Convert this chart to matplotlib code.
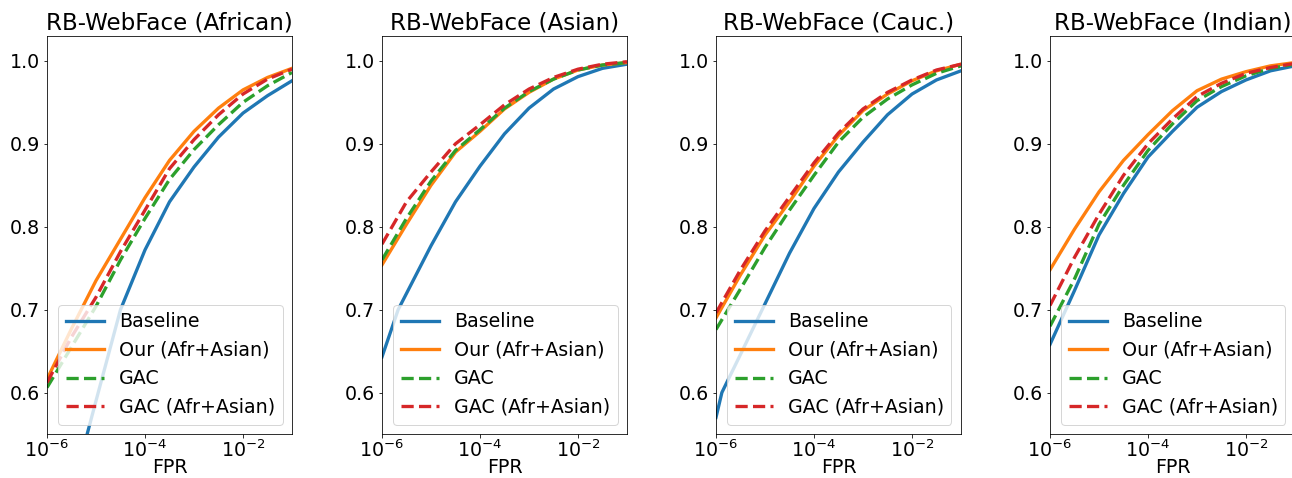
import numpy as np
import matplotlib
matplotlib.use("Agg")
import matplotlib.pyplot as plt

# log10(FPR) sample points
log_fpr = [-6, -5.5, -5, -4.5, -4, -3.5, -3, -2.5, -2, -1.5, -1]
log_fpr_afr_base = [-6, -5.5, -5.18, -5, -4.5, -4, -3.5, -3, -2.5, -2, -1.5, -1]
log_fpr_cau_base = [-6, -5.88, -5.5, -5, -4.5, -4, -3.5, -3, -2.5, -2, -1.5, -1]
log_fpr_asi_base = [-6, -5.67, -5, -4.5, -4, -3.5, -3, -2.5, -2, -1.5, -1]

titles = ["RB-WebFace (African)", "RB-WebFace (Asian)", "RB-WebFace (Cauc.)", "RB-WebFace (Indian)"]
labels = ["Baseline", "Our (Afr+Asian)", "GAC", "GAC (Afr+Asian)"]

# African
afr_base = [0.36, 0.47, 0.55, 0.59, 0.70, 0.772, 0.83, 0.872, 0.908, 0.937, 0.958, 0.976]
afr_our = [0.616, 0.677, 0.735, 0.785, 0.835, 0.88, 0.915, 0.943, 0.965, 0.98, 0.991]
afr_gac = [0.606, 0.655, 0.704, 0.76, 0.81, 0.857, 0.893, 0.923, 0.95, 0.97, 0.986]
afr_gac2 = [0.612, 0.667, 0.715, 0.77, 0.82, 0.87, 0.905, 0.935, 0.96, 0.978, 0.99]

# Asian
asi_base = [0.643, 0.70, 0.777, 0.83, 0.873, 0.912, 0.943, 0.966, 0.981, 0.991, 0.996]
asi_our = [0.754, 0.803, 0.85, 0.89, 0.915, 0.942, 0.962, 0.978, 0.989, 0.995, 0.998]
asi_gac = [0.76, 0.81, 0.855, 0.892, 0.917, 0.943, 0.963, 0.978, 0.989, 0.995, 0.998]
asi_gac2 = [0.779, 0.83, 0.866, 0.9, 0.923, 0.947, 0.966, 0.98, 0.99, 0.996, 0.999]

# Caucasian
cau_base = [0.57, 0.6, 0.646, 0.707, 0.768, 0.822, 0.866, 0.902, 0.935, 0.96, 0.977, 0.988]
cau_our = [0.69, 0.742, 0.79, 0.83, 0.873, 0.91, 0.94, 0.96, 0.976, 0.988, 0.996]
cau_gac = [0.676, 0.725, 0.775, 0.82, 0.862, 0.902, 0.932, 0.954, 0.971, 0.985, 0.994]
cau_gac2 = [0.696, 0.748, 0.795, 0.836, 0.877, 0.913, 0.942, 0.962, 0.977, 0.989, 0.996]

# Indian
ind_base = [0.658, 0.723, 0.79, 0.84, 0.884, 0.915, 0.944, 0.963, 0.977, 0.988, 0.994]
ind_our = [0.748, 0.797, 0.842, 0.88, 0.911, 0.94, 0.964, 0.978, 0.987, 0.994, 0.998]
ind_gac = [0.68, 0.737, 0.803, 0.85, 0.892, 0.924, 0.952, 0.969, 0.982, 0.991, 0.996]
ind_gac2 = [0.705, 0.763, 0.815, 0.862, 0.9, 0.93, 0.957, 0.973, 0.985, 0.992, 0.997]

panels = [
    [(log_fpr_afr_base, afr_base), (log_fpr, afr_our), (log_fpr, afr_gac), (log_fpr, afr_gac2)],
    [(log_fpr_asi_base, asi_base), (log_fpr, asi_our), (log_fpr, asi_gac), (log_fpr, asi_gac2)],
    [(log_fpr_cau_base, cau_base), (log_fpr, cau_our), (log_fpr, cau_gac), (log_fpr, cau_gac2)],
    [(log_fpr, ind_base), (log_fpr, ind_our), (log_fpr, ind_gac), (log_fpr, ind_gac2)],
]

colors = ["tab:blue", "tab:orange", "tab:green", "tab:red"]
styles = ["-", "-", "--", "--"]

fig = plt.figure(figsize=(1292 / 72, 478 / 72), dpi=72)
lefts = [47, 382, 716, 1050]
for k in range(4):
    ax = fig.add_axes([lefts[k] / 1292, 44 / 478, 245 / 1292, 398 / 478])
    for (lx, y), c, ls, lab in zip(panels[k], colors, styles, labels):
        ax.plot(10.0 ** np.array(lx), y, color=c, ls=ls, lw=3.3, label=lab)
    ax.set_xscale("log")
    ax.set_xlim(1e-6, 1e-1)
    ax.set_ylim(0.55, 1.03)
    ax.set_xticks([1e-6, 1e-4, 1e-2])
    ax.minorticks_off()
    ax.set_yticks([0.6, 0.7, 0.8, 0.9, 1.0])
    ax.tick_params(labelsize=19)
    ax.tick_params(axis="x", pad=2)
    ax.set_xlabel("FPR", fontsize=19, labelpad=-3)
    ax.set_title(titles[k], fontsize=23)
    ax.legend(loc="lower right", fontsize=19)

fig.savefig("out.png", dpi=72)
